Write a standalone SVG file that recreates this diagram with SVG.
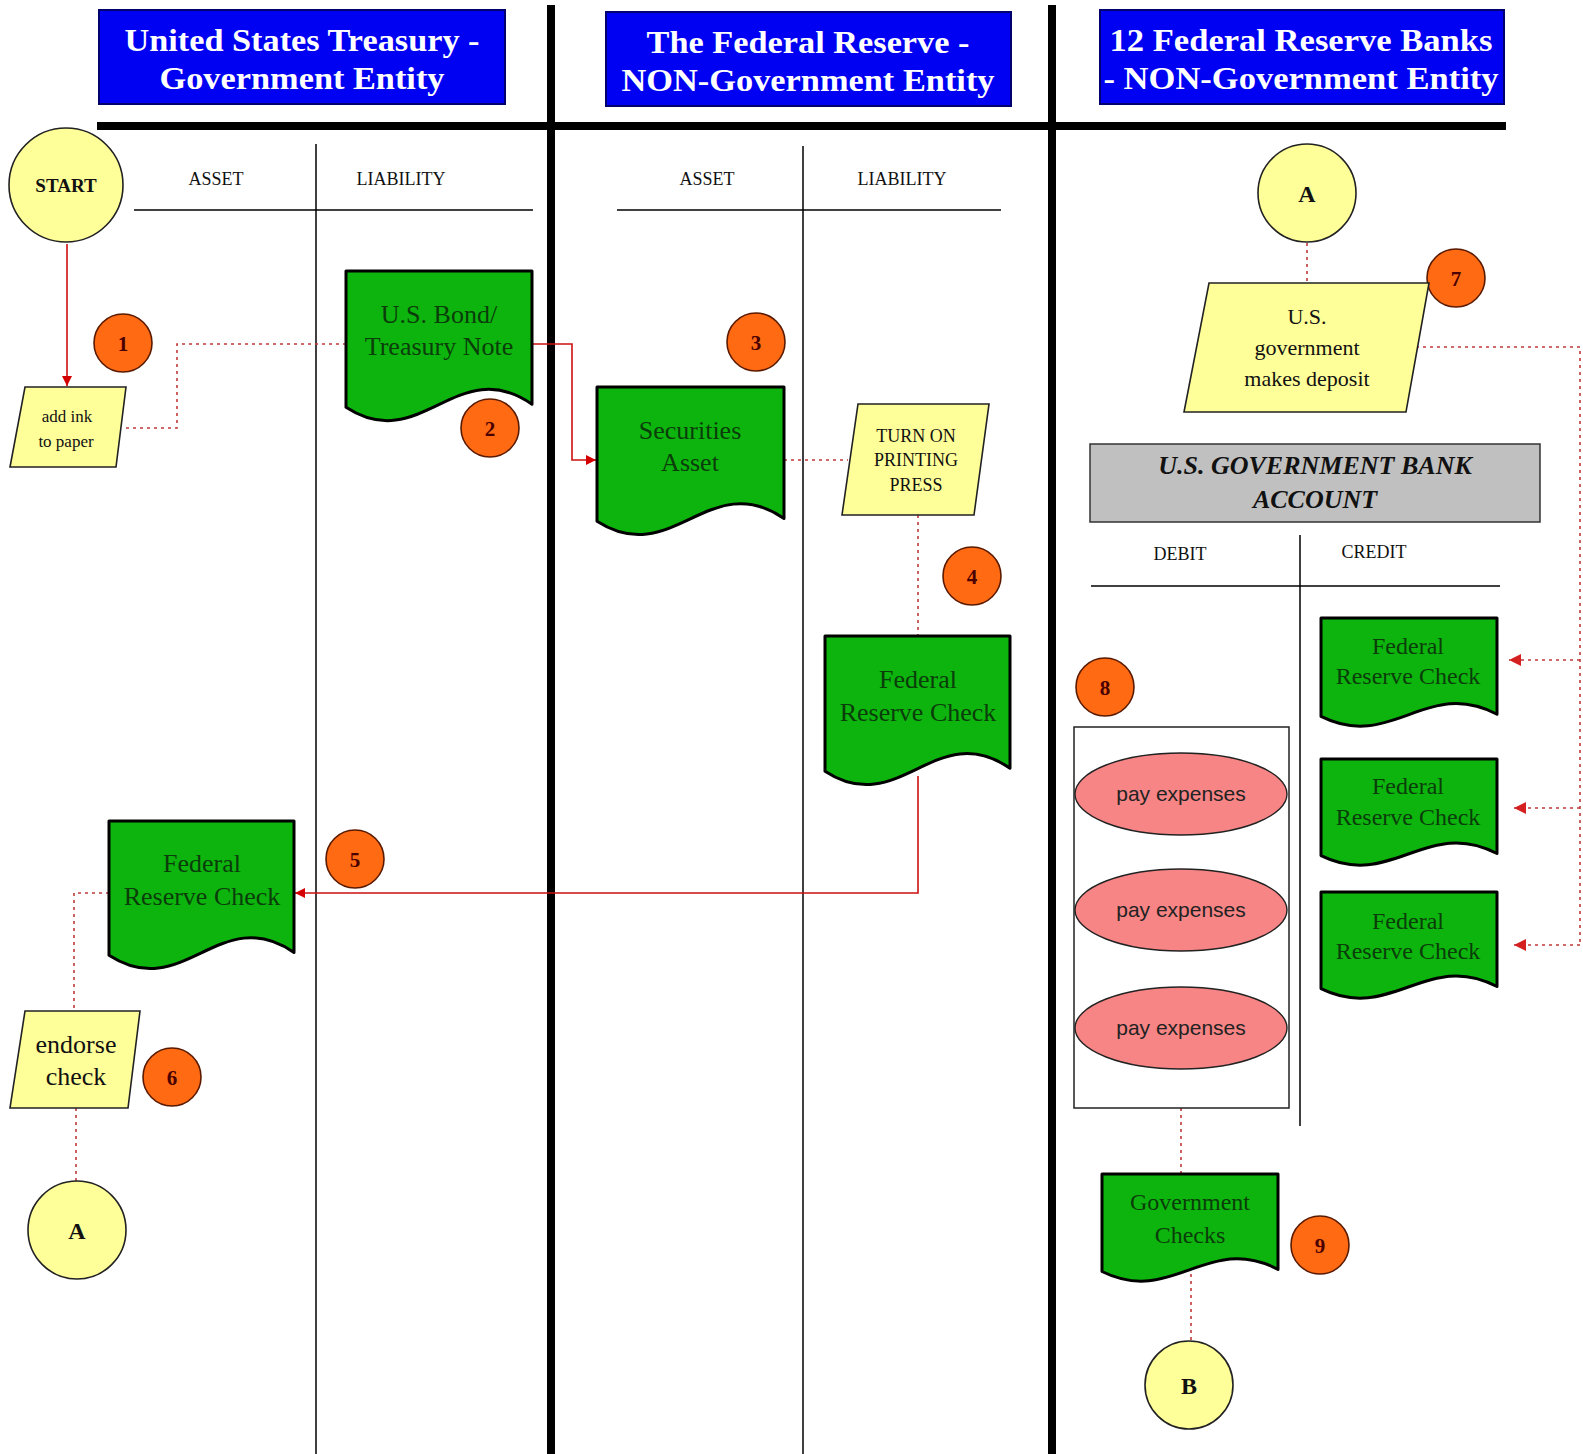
<svg xmlns="http://www.w3.org/2000/svg" width="1583" height="1454" viewBox="0 0 1583 1454">
<defs>
<marker id="arr" viewBox="0 0 10 10" refX="10" refY="5" markerWidth="10" markerHeight="10" markerUnits="userSpaceOnUse" orient="auto">
<path d="M0,0 L10,5 L0,10 Z" fill="#d40000"/>
</marker>
<marker id="arrd" viewBox="0 0 10 10" refX="10" refY="5" markerWidth="12" markerHeight="12" markerUnits="userSpaceOnUse" orient="auto">
<path d="M0,0 L10,5 L0,10 Z" fill="#d42020"/>
</marker>
<style>
.hdr{fill:#0000f2;stroke:#00006e;stroke-width:2}
.ht{font-family:"Liberation Serif",serif;font-weight:bold;font-size:31px;fill:#ffffff;text-anchor:middle}
.thick{stroke:#000;stroke-width:8;fill:none}
.thin{stroke:#000;stroke-width:1.5;fill:none}
.col{font-family:"Liberation Serif",serif;font-size:18px;fill:#111;text-anchor:middle}
.yel{fill:#ffff99;stroke:#222;stroke-width:1.6}
.doc{fill:#0db40d;stroke:#000;stroke-width:3;stroke-linejoin:round}
.dt{font-family:"Liberation Serif",serif;font-size:26px;fill:#0b3d0b;text-anchor:middle}
.dts{font-family:"Liberation Serif",serif;font-size:24px;fill:#0b3d0b;text-anchor:middle}
.yt{font-family:"Liberation Serif",serif;fill:#111;text-anchor:middle}
.bold{font-weight:bold}
.badge{fill:#ff6a13;stroke:#5a1a00;stroke-width:1.6}
.bt{font-family:"Liberation Serif",serif;font-weight:bold;font-size:21px;fill:#4a0000;text-anchor:middle}
.red{stroke:#cc1111;stroke-width:1.6;fill:none}
.dot{stroke:#c03a3a;stroke-width:1.6;fill:none;stroke-dasharray:3 4}
.pink{fill:#f78585;stroke:#222;stroke-width:1.4}
.pt{font-family:"Liberation Sans",sans-serif;font-size:21px;fill:#222;text-anchor:middle}
</style>
</defs>
<rect width="1583" height="1454" fill="#ffffff"/>

<g id="lanes">
<line class="thick" x1="551" y1="5" x2="551" y2="1454"/>
<line class="thick" x1="1052" y1="5" x2="1052" y2="1454"/>
<line class="thick" x1="97" y1="126" x2="1506" y2="126"/>
</g>

<g id="header-treasury">
<rect class="hdr" x="99" y="10" width="406" height="94"/>
<text class="ht" x="302" y="51" textLength="355" lengthAdjust="spacingAndGlyphs">United States Treasury -</text>
<text class="ht" x="302" y="89" textLength="285" lengthAdjust="spacingAndGlyphs">Government Entity</text>
</g>
<g id="header-fed">
<rect class="hdr" x="606" y="12" width="405" height="94"/>
<text class="ht" x="808" y="53" textLength="323" lengthAdjust="spacingAndGlyphs">The Federal Reserve -</text>
<text class="ht" x="808" y="91" textLength="373" lengthAdjust="spacingAndGlyphs">NON-Government Entity</text>
</g>
<g id="header-banks">
<rect class="hdr" x="1100" y="10" width="404" height="94"/>
<text class="ht" x="1301" y="51" textLength="383" lengthAdjust="spacingAndGlyphs">12 Federal Reserve Banks</text>
<text class="ht" x="1301" y="89" textLength="395" lengthAdjust="spacingAndGlyphs">- NON-Government Entity</text>
</g>

<g id="taccount-treasury">
<line class="thin" x1="316" y1="144" x2="316" y2="1454"/>
<line class="thin" x1="134" y1="210" x2="533" y2="210"/>
<text class="col" x="216" y="185">ASSET</text>
<text class="col" x="401" y="185">LIABILITY</text>
</g>
<g id="taccount-fed">
<line class="thin" x1="803" y1="146" x2="803" y2="1454"/>
<line class="thin" x1="617" y1="210" x2="1001" y2="210"/>
<text class="col" x="707" y="185">ASSET</text>
<text class="col" x="902" y="185">LIABILITY</text>
</g>
<g id="bank-account">
<rect x="1090" y="444" width="450" height="78" fill="#c0c0c0" stroke="#333" stroke-width="1.5"/>
<text class="yt bold" x="1315" y="474" font-size="26" font-style="italic">U.S. GOVERNMENT BANK</text>
<text class="yt bold" x="1315" y="508" font-size="26" font-style="italic">ACCOUNT</text>
<line class="thin" x1="1300" y1="535" x2="1300" y2="1126"/>
<line class="thin" x1="1091" y1="586" x2="1500" y2="586"/>
<text class="col" x="1180" y="560" font-size="17">DEBIT</text>
<text class="col" x="1374" y="558" font-size="17">CREDIT</text>
</g>

<g id="connectors">
<line class="red" x1="67" y1="244" x2="67" y2="386" marker-end="url(#arr)"/>
<polyline class="dot" points="126,428 177,428 177,344 346,344"/>
<polyline class="red" points="532,344 572,344 572,460 596,460" marker-end="url(#arr)"/>
<line class="dot" x1="784" y1="460" x2="848" y2="460"/>
<line class="dot" x1="918" y1="515" x2="918" y2="636"/>
<polyline class="red" points="918,776 918,893 295,893" marker-end="url(#arr)"/>
<polyline class="dot" points="109,893 74,893 74,1011"/>
<line class="dot" x1="76" y1="1108" x2="76" y2="1181"/>
<line class="dot" x1="1307" y1="243" x2="1307" y2="283"/>
<polyline class="dot" points="1416,347 1580,347 1580,945"/>
<line class="dot" x1="1580" y1="660" x2="1509" y2="660" marker-end="url(#arrd)"/>
<line class="dot" x1="1580" y1="808" x2="1514" y2="808" marker-end="url(#arrd)"/>
<line class="dot" x1="1580" y1="945" x2="1514" y2="945" marker-end="url(#arrd)"/>
<line class="dot" x1="1181" y1="1108" x2="1181" y2="1174"/>
<line class="dot" x1="1191" y1="1274" x2="1191" y2="1340"/>
</g>

<g id="start">
<circle class="yel" cx="66" cy="185" r="57"/>
<text class="yt bold" x="66" y="192" font-size="19">START</text>
</g>
<g id="add-ink">
<polygon class="yel" points="25,387 126,387 116,467 10,467"/>
<text class="yt" x="67" y="422" font-size="17">add ink</text>
<text class="yt" x="66" y="447" font-size="17">to paper</text>
</g>
<g id="badge1"><circle class="badge" cx="123" cy="343" r="29"/><text class="bt" x="123" y="351">1</text></g>
<g id="bond">
<path class="doc" d="M346,271 H532 V404.2 C457.6,352.4 420.4,456 346,407.2 Z"/>
<text class="dt" x="439" y="323">U.S. Bond/</text>
<text class="dt" x="439" y="355">Treasury Note</text>
</g>
<g id="badge2"><circle class="badge" cx="490" cy="428" r="29"/><text class="bt" x="490" y="436">2</text></g>
<g id="badge3"><circle class="badge" cx="756" cy="342" r="29"/><text class="bt" x="756" y="350">3</text></g>
<g id="securities">
<path class="doc" d="M597,387 H784 V518.4 C709.2,467.3 671.8,569.5 597,521.3 Z"/>
<text class="dt" x="690" y="439">Securities</text>
<text class="dt" x="690" y="471">Asset</text>
</g>
<g id="printing-press">
<polygon class="yel" points="858,404 989,404 974,515 842,515"/>
<text class="yt" x="916" y="442" font-size="18">TURN ON</text>
<text class="yt" x="916" y="466" font-size="18">PRINTING</text>
<text class="yt" x="916" y="491" font-size="18">PRESS</text>
</g>
<g id="badge4"><circle class="badge" cx="972" cy="576" r="29"/><text class="bt" x="972" y="584">4</text></g>
<g id="fed-check-fed">
<path class="doc" d="M825,636 H1010 V768.3 C936,716.9 899,819.8 825,771.2 Z"/>
<text class="dt" x="918" y="688">Federal</text>
<text class="dt" x="918" y="721">Reserve Check</text>
</g>
<g id="badge5"><circle class="badge" cx="355" cy="859" r="29"/><text class="bt" x="355" y="867">5</text></g>
<g id="fed-check-treasury">
<path class="doc" d="M109,821 H294 V952.4 C220,901.3 183,1003.5 109,955.3 Z"/>
<text class="dt" x="202" y="872">Federal</text>
<text class="dt" x="202" y="905">Reserve Check</text>
</g>
<g id="endorse">
<polygon class="yel" points="25,1011 140,1011 128,1108 10,1108"/>
<text class="yt" x="76" y="1053" font-size="26">endorse</text>
<text class="yt" x="76" y="1085" font-size="26">check</text>
</g>
<g id="badge6"><circle class="badge" cx="172" cy="1077" r="29"/><text class="bt" x="172" y="1085">6</text></g>
<g id="connector-a-left">
<circle class="yel" cx="77" cy="1230" r="49"/>
<text class="yt bold" x="77" y="1239" font-size="24">A</text>
</g>

<g id="connector-a-right">
<circle class="yel" cx="1307" cy="193" r="49"/>
<text class="yt bold" x="1307" y="202" font-size="24">A</text>
</g>
<g id="badge7"><circle class="badge" cx="1456" cy="278" r="29"/><text class="bt" x="1456" y="286">7</text></g>
<g id="deposit">
<polygon class="yel" points="1209,283 1429,283 1406,412 1184,412"/>
<text class="yt" x="1307" y="324" font-size="22">U.S.</text>
<text class="yt" x="1307" y="355" font-size="22">government</text>
<text class="yt" x="1307" y="386" font-size="22">makes deposit</text>
</g>
<g id="credit-check-1">
<path class="doc" d="M1321,618 H1497 V714.3 C1426.6,676.9 1391.4,751.75 1321,716.4 Z"/>
<text class="dts" x="1408" y="654">Federal</text>
<text class="dts" x="1408" y="684">Reserve Check</text>
</g>
<g id="credit-check-2">
<path class="doc" d="M1321,759 H1497 V853.5 C1426.6,816.75 1391.4,890.25 1321,855.6 Z"/>
<text class="dts" x="1408" y="794">Federal</text>
<text class="dts" x="1408" y="825">Reserve Check</text>
</g>
<g id="credit-check-3">
<path class="doc" d="M1321,892 H1497 V986.5 C1426.6,949.75 1391.4,1023.25 1321,988.6 Z"/>
<text class="dts" x="1408" y="929">Federal</text>
<text class="dts" x="1408" y="959">Reserve Check</text>
</g>
<g id="badge8"><circle class="badge" cx="1105" cy="687" r="29"/><text class="bt" x="1105" y="695">8</text></g>
<g id="expenses">
<rect x="1074" y="727" width="215" height="381" fill="none" stroke="#222" stroke-width="1.5"/>
<ellipse class="pink" cx="1181" cy="794" rx="106" ry="41"/>
<text class="pt" x="1181" y="801">pay expenses</text>
<ellipse class="pink" cx="1181" cy="910" rx="106" ry="41"/>
<text class="pt" x="1181" y="917">pay expenses</text>
<ellipse class="pink" cx="1181" cy="1028" rx="106" ry="41"/>
<text class="pt" x="1181" y="1035">pay expenses</text>
</g>
<g id="gov-checks">
<path class="doc" d="M1102,1174 H1278 V1269.4 C1207.6,1232.3 1172.4,1306.5 1102,1271.5 Z"/>
<text class="dts" x="1190" y="1210">Government</text>
<text class="dts" x="1190" y="1243">Checks</text>
</g>
<g id="badge9"><circle class="badge" cx="1320" cy="1245" r="29"/><text class="bt" x="1320" y="1253">9</text></g>
<g id="connector-b">
<circle class="yel" cx="1189" cy="1385" r="44"/>
<text class="yt bold" x="1189" y="1394" font-size="24">B</text>
</g>
</svg>
